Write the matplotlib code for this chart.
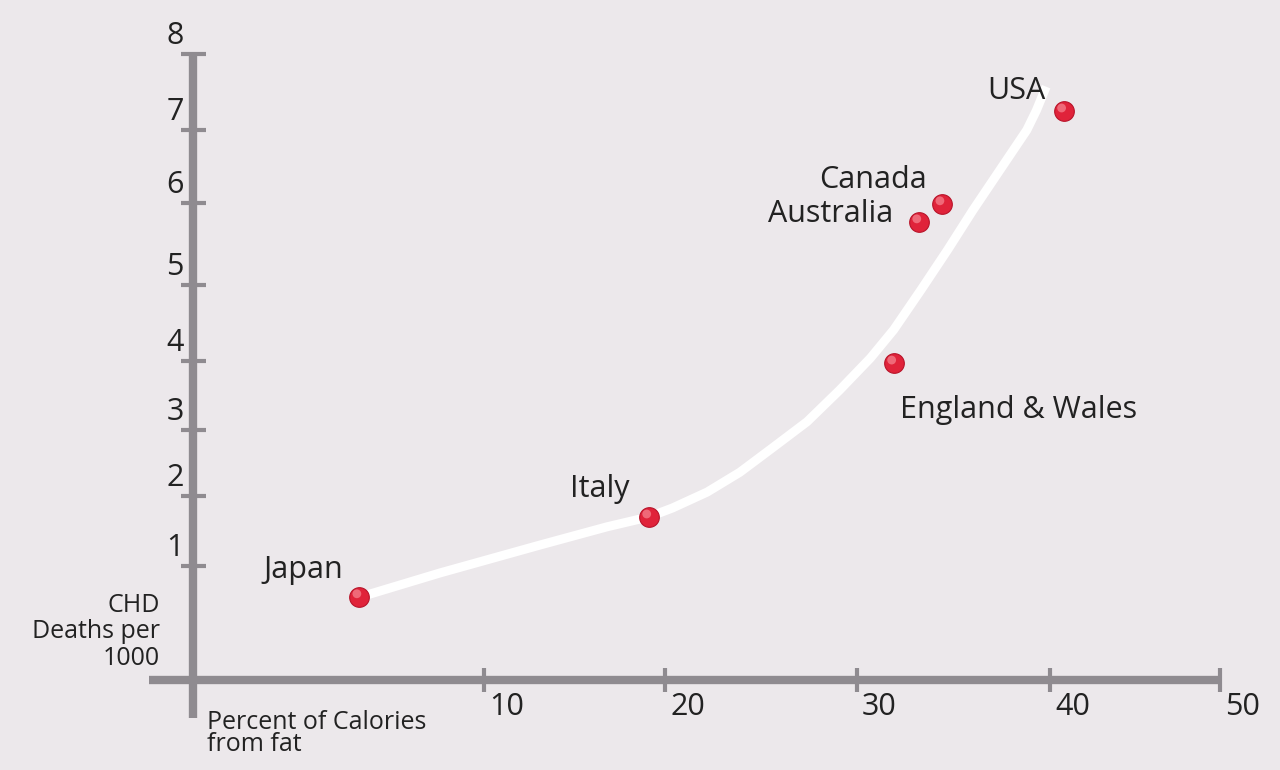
import numpy as np
import matplotlib
matplotlib.use("Agg")
import matplotlib.pyplot as plt
import matplotlib.transforms as mtransforms

# data
countries = ["Japan", "Italy", "England & Wales", "Australia", "Canada", "USA"]
fat_pct = [5.7, 19.1, 31.9, 33.2, 34.4, 40.8]
chd_deaths = [0.73, 1.70, 3.97, 5.77, 5.99, 7.25]

# hand-drawn trend curve
curve_x = [5.9, 8.5, 13.1, 16.8, 19.1, 20.4, 22.2, 23.9, 25.6, 27.4,
           29.1, 30.7, 31.9, 33.3, 34.7, 36.0, 37.4, 38.8, 39.3, 39.8]
curve_y = [0.74, 0.94, 1.30, 1.56, 1.70, 1.83, 2.06, 2.36, 2.73, 3.12,
           3.58, 4.04, 4.41, 4.93, 5.43, 5.91, 6.45, 7.00, 7.26, 7.57]

xticks = [10, 20, 30, 40, 50]
yticks = [1, 2, 3, 4, 5, 6, 7, 8]

# the drawn axes are not evenly spaced: piecewise scale (value -> pixel)
x_vals = [-10, 0, 10, 20, 30, 40, 50, 60]
x_pix = [-98, 193, 484, 665, 857, 1050, 1220, 1390]
y_vals = [-2, 0, 1, 2, 3, 4, 5, 6, 7, 8, 10]
y_pix = [-138, 90, 204, 274, 340, 409, 485, 567, 640, 716, 868]


def fx(v):
    return np.interp(v, x_vals, x_pix)


def fx_inv(p):
    return np.interp(p, x_pix, x_vals)


def fy(v):
    return np.interp(v, y_vals, y_pix)


def fy_inv(p):
    return np.interp(p, y_pix, y_vals)


bg = "#ECE8EB"
axis_col = "#8F8B90"
text_col = "#222222"
font = "Open Sans"

fig = plt.figure(figsize=(12.8, 7.7), dpi=100, facecolor=bg)
ax = fig.add_axes([0, 0, 1, 1])
ax.set_facecolor(bg)
ax.set_xscale("function", functions=(fx, fx_inv))
ax.set_yscale("function", functions=(fy, fy_inv))
ax.set_xlim(fx_inv(0), fx_inv(1280))
ax.set_ylim(fy_inv(0), fy_inv(770))
ax.axis("off")

# axes lines
ax.plot([-1.5, 50], [0, 0], color=axis_col, lw=6, solid_capstyle="butt", zorder=2)
ax.plot([0, 0], [-0.33, 8], color=axis_col, lw=6, solid_capstyle="butt", zorder=2)
ax.plot(xticks, [0] * len(xticks), ls="none", marker="|", ms=17, mew=3,
        color=axis_col, zorder=2)
ax.plot([0] * len(yticks), yticks, ls="none", marker="_", ms=18, mew=3,
        color=axis_col, zorder=2)

# tick labels
for t in xticks:
    ax.annotate(str(t), (t, 0), xytext=(5, -35), textcoords="offset pixels",
                ha="left", va="baseline", fontsize=22, color=text_col, family=font)
for t in yticks:
    ax.annotate(str(t), (0, t), xytext=(-9, 10), textcoords="offset pixels",
                ha="right", va="baseline", fontsize=22, color=text_col, family=font)

# axis titles
ax.annotate("CHD\nDeaths per\n1000", (0, 0), xytext=(-33, 9), textcoords="offset pixels",
            ha="right", va="bottom", fontsize=18, color=text_col, family=font,
            multialignment="right", linespacing=1.08)
ax.annotate("Percent of Calories\nfrom fat", (0, 0), xytext=(14, -30), textcoords="offset pixels",
            ha="left", va="top", fontsize=18, color=text_col, family=font,
            linespacing=0.85)

# trend curve
ax.plot(curve_x, curve_y, color="white", lw=6.5, solid_capstyle="butt",
        solid_joinstyle="round", zorder=3)

# glossy red dots
ax.scatter(fat_pct, chd_deaths, s=200, color="#E0233A", edgecolor="#B8142A",
           linewidth=0.8, zorder=4)
hi = mtransforms.offset_copy(ax.transData, fig=fig, x=-2, y=3, units="dots")
ax.scatter(fat_pct, chd_deaths, s=40, color="#F47C88", alpha=0.8,
           edgecolor="none", transform=hi, zorder=5)

# country labels (offsets in pixels from each dot)
label_off = {
    "Japan": (-16, 19, "right"),
    "Italy": (-19, 20, "right"),
    "England & Wales": (6, -55, "left"),
    "Australia": (-26, 0, "right"),
    "Canada": (-15, 16, "right"),
    "USA": (-18, 12, "right"),
}
for name, xv, yv in zip(countries, fat_pct, chd_deaths):
    dx, dy, ha = label_off[name]
    ax.annotate(name, (xv, yv), xytext=(dx, dy), textcoords="offset pixels",
                ha=ha, va="baseline", fontsize=22, color=text_col, family=font)

fig.savefig("out.png", dpi=100, facecolor=bg)
